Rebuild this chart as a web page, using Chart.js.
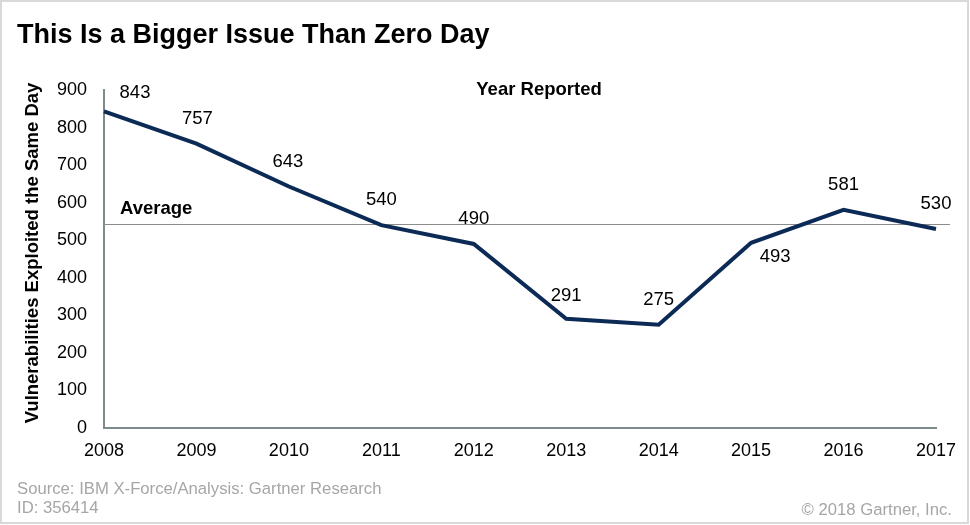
<!DOCTYPE html>
<html lang="en">
<head>
    <meta charset="UTF-8">
    <title>This Is a Bigger Issue Than Zero Day</title>
    <script src="https://cdn.jsdelivr.net/npm/chart.js"></script>
    <style>
        html, body { margin: 0; padding: 0; background: #fff; }
        #wrap { width: 970px; height: 525px; position: relative; }
    </style>
</head>
<body>
    <div id="wrap"><canvas id="zeroDayChart" width="970" height="525"></canvas></div>

    <script>
        // data
        const years = ['2008', '2009', '2010', '2011', '2012', '2013', '2014', '2015', '2016', '2017'];
        const vulnerabilities = [843, 757, 643, 540, 490, 291, 275, 493, 581, 530];
        const yMin = 0;
        const yMax = 900;
        const yStep = 100;

        // where each value label sits relative to its point (px)
        const labelOffsets = [[31, -19], [1, -25], [-1, -25], [0, -25], [0, -25], [0, -23], [0, -25], [24, 14], [0, -25], [0, -25]];

        const average = vulnerabilities.reduce((a, b) => a + b, 0) / vulnerabilities.length;
        const FONT = '"Liberation Sans", Arial, sans-serif';

        const decorations = {
            id: 'decorations',
            beforeDraw(chart) {
                const ctx = chart.ctx;
                ctx.save();
                ctx.fillStyle = '#fff';
                ctx.fillRect(0, 0, chart.width, chart.height);
                ctx.restore();
            },
            beforeDatasetsDraw(chart) {
                // average line
                const ctx = chart.ctx;
                const y = chart.scales.y.getPixelForValue(average);
                ctx.save();
                ctx.strokeStyle = '#8c8c8c';
                ctx.lineWidth = 1;
                ctx.beginPath();
                ctx.moveTo(chart.chartArea.left, Math.round(y) + 0.5);
                ctx.lineTo(950, Math.round(y) + 0.5);
                ctx.stroke();
                ctx.restore();
            },
            afterDatasetsDraw(chart) {
                const ctx = chart.ctx;
                const meta = chart.getDatasetMeta(0);
                ctx.save();
                ctx.textAlign = 'center';
                ctx.textBaseline = 'middle';
                ctx.fillStyle = '#000';
                ctx.font = '18.5px ' + FONT;
                meta.data.forEach((pt, i) => {
                    const off = labelOffsets[i];
                    ctx.fillText(String(vulnerabilities[i]), pt.x + off[0], pt.y + off[1]);
                });

                // title
                ctx.textAlign = 'left';
                ctx.textBaseline = 'alphabetic';
                ctx.font = 'bold 27px ' + FONT;
                ctx.fillText('This Is a Bigger Issue Than Zero Day', 17, 43);

                // in-chart labels
                ctx.textBaseline = 'middle';
                ctx.font = 'bold 18.5px ' + FONT;
                ctx.textAlign = 'center';
                ctx.fillText('Year Reported', 539, 90);
                ctx.textAlign = 'left';
                ctx.fillText('Average', 120, 209);

                // y axis title
                ctx.save();
                ctx.translate(33, 253);
                ctx.rotate(-Math.PI / 2);
                ctx.textAlign = 'center';
                ctx.font = 'bold 18.5px ' + FONT;
                ctx.fillText('Vulnerabilities Exploited the Same Day', 0, 0);
                ctx.restore();

                // footer
                ctx.fillStyle = '#a6a6a6';
                ctx.font = '16.7px ' + FONT;
                ctx.textAlign = 'left';
                ctx.fillText('Source: IBM X-Force/Analysis: Gartner Research', 17, 489);
                ctx.fillText('ID: 356414', 17, 508);
                ctx.textAlign = 'right';
                ctx.fillText('\u00A9 2018 Gartner, Inc.', 952, 510);

                // frame
                ctx.strokeStyle = '#d9d9d9';
                ctx.lineWidth = 2;
                ctx.strokeRect(1, 1, 967, 522);
                ctx.restore();
            }
        };

        const ctx = document.getElementById('zeroDayChart').getContext('2d');
        const chart = new Chart(ctx, {
            type: 'line',
            data: {
                labels: years,
                datasets: [{
                    label: 'Vulnerabilities Exploited the Same Day',
                    data: vulnerabilities,
                    borderColor: '#0c2a56',
                    borderWidth: 4,
                    pointRadius: 0,
                    tension: 0,
                    fill: false
                }]
            },
            options: {
                responsive: false,
                animation: false,
                devicePixelRatio: 1,
                layout: { padding: { left: 0, top: 90, right: 34, bottom: 0 } },
                plugins: {
                    legend: { display: false },
                    tooltip: { enabled: false }
                },
                scales: {
                    x: {
                        offset: false,
                        grid: { display: false, drawTicks: false },
                        border: { display: true, color: '#7f8a8c', width: 2 },
                        ticks: {
                            color: '#000',
                            font: { family: FONT, size: 18 },
                            padding: 12,
                            maxRotation: 0,
                            autoSkip: false
                        },
                        afterFit(scale) { scale.height = 97; }
                    },
                    y: {
                        min: yMin,
                        max: yMax,
                        grid: { display: false, drawTicks: false },
                        border: { display: true, color: '#7f8a8c', width: 2 },
                        ticks: {
                            stepSize: yStep,
                            color: '#000',
                            font: { family: FONT, size: 18 },
                            padding: 17
                        },
                        afterFit(scale) { scale.width = 104; }
                    }
                }
            },
            plugins: [decorations]
        });
    </script>
</body>
</html>
